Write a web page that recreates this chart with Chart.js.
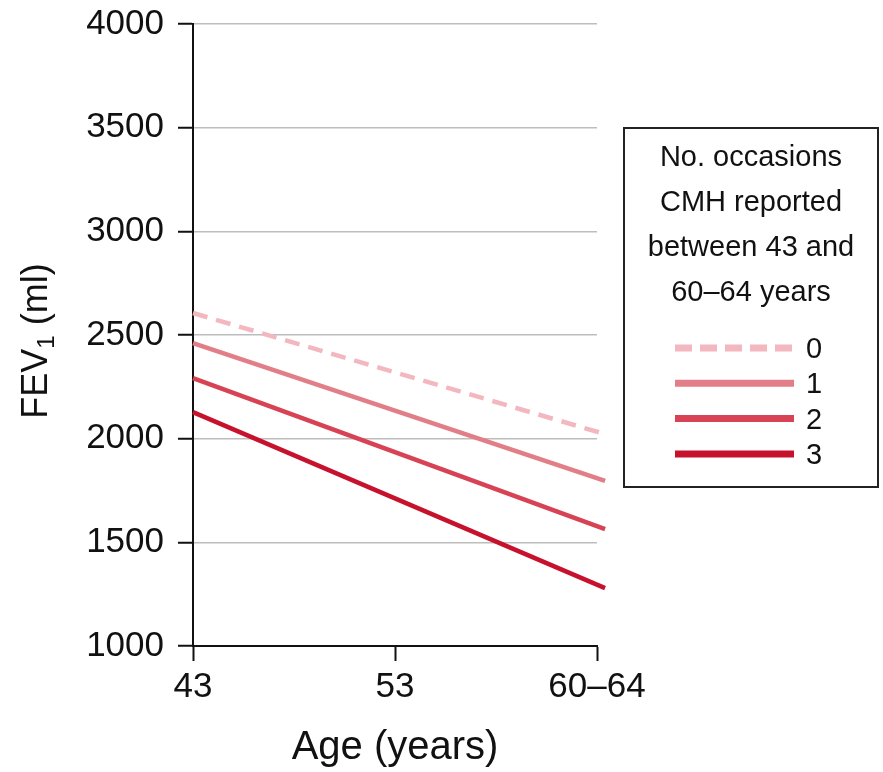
<!DOCTYPE html>
<html>
<head>
<meta charset="utf-8">
<script src="https://cdn.jsdelivr.net/npm/chart.js@4"></script>
<style>
  html, body { margin: 0; padding: 0; background: #fff; }
  #wrap { width: 883px; height: 772px; }
</style>
</head>
<body>
<div id="wrap"><canvas id="fevChart" width="883" height="772"></canvas></div>
<script>
// Data
const ages = [43, 63.4];
const xTickValues = [43, 53, 63];
const xTickLabels = ['43', '53', '60\u201364'];
const cmhLabels = ['0', '1', '2', '3'];
const fevCmh0 = [2606, 2022];
const fevCmh1 = [2461, 1796];
const fevCmh2 = [2292, 1564];
const fevCmh3 = [2128, 1279];
const legendTitle = ['No. occasions', 'CMH reported', 'between 43 and', '60\u201364 years'];

const lineColors = ['#f3b8bf', '#e27e88', '#d74354', '#c6122d'];
const FONT = '"Liberation Sans", Arial, Helvetica, sans-serif';

function series(values) {
  return values.map((v, i) => ({ x: ages[i], y: v }));
}

// axis titles + boxed legend drawn on top of the chart
const extrasPlugin = {
  id: 'extras',
  afterDraw(chart) {
    const ctx = chart.ctx;
    const area = chart.chartArea;
    ctx.save();
    ctx.fillStyle = '#111';

    // x axis title
    ctx.font = '40px ' + FONT;
    ctx.textAlign = 'center';
    ctx.textBaseline = 'alphabetic';
    ctx.fillText('Age (years)', (area.left + area.right) / 2, 759);

    // y axis title with subscript
    ctx.save();
    ctx.translate(47, (area.top + area.bottom) / 2 + 6);
    ctx.rotate(-Math.PI / 2);
    const big = '36px ' + FONT, small = '24px ' + FONT;
    ctx.font = big;
    const w1 = ctx.measureText('FEV').width;
    const w3 = ctx.measureText(' (ml)').width;
    ctx.font = small;
    const w2 = ctx.measureText('1').width;
    let x = -(w1 + w2 + w3) / 2;
    ctx.textAlign = 'left';
    ctx.font = big;
    ctx.fillText('FEV', x, 0);
    ctx.font = small;
    ctx.fillText('1', x + w1, 7);
    ctx.font = big;
    ctx.fillText(' (ml)', x + w1 + w2, 0);
    ctx.restore();

    // legend box
    ctx.strokeStyle = '#222';
    ctx.lineWidth = 2;
    ctx.strokeRect(624, 128, 254, 359);
    ctx.font = '29px ' + FONT;
    ctx.textAlign = 'center';
    ctx.textBaseline = 'middle';
    legendTitle.forEach((t, i) => ctx.fillText(t, 751, 158 + i * 45));

    chart.data.datasets.forEach((ds, i) => {
      const y = 348 + i * 35.3;
      ctx.beginPath();
      ctx.strokeStyle = ds.borderColor;
      ctx.lineWidth = 7;
      ctx.setLineDash(ds.borderDash ? [17, 8] : []);
      ctx.moveTo(675, y);
      ctx.lineTo(794, y);
      ctx.stroke();
      ctx.setLineDash([]);
      ctx.textAlign = 'left';
      ctx.fillStyle = '#111';
      ctx.fillText(cmhLabels[i], 806, y + 2);
    });
    ctx.restore();
  }
};

const datasets = [fevCmh0, fevCmh1, fevCmh2, fevCmh3].map((vals, i) => ({
  label: cmhLabels[i],
  data: series(vals),
  borderColor: lineColors[i],
  borderWidth: 4.5,
  borderDash: i === 0 ? [15, 9] : undefined,
  pointRadius: 0,
  fill: false,
  clip: false,
  tension: 0
}));

new Chart(document.getElementById('fevChart'), {
  type: 'line',
  data: { datasets },
  plugins: [extrasPlugin],
  options: {
    responsive: false,
    animation: false,
    layout: { padding: { top: 24, right: 286, bottom: 0, left: 0 } },
    plugins: {
      legend: { display: false },
      tooltip: { enabled: false }
    },
    scales: {
      x: {
        type: 'linear',
        min: 43,
        max: 63,
        afterBuildTicks: (scale) => {
          scale.ticks = xTickValues.map(v => ({ value: v }));
        },
        afterFit: (scale) => { scale.height = 126; },
        ticks: {
          color: '#111',
          font: { family: FONT, size: 35 },
          padding: 5,
          maxRotation: 0,
          autoSkip: false,
          callback: (val) => {
            const idx = xTickValues.indexOf(val);
            return idx >= 0 ? xTickLabels[idx] : '';
          }
        },
        grid: {
          drawOnChartArea: false,
          tickLength: 15,
          tickColor: '#111',
          tickWidth: 2
        },
        border: { color: '#111', width: 2 }
      },
      y: {
        min: 1000,
        max: 4000,
        afterFit: (scale) => {
          scale.width = 193;
          scale.paddingTop = 0;
          scale.paddingBottom = 0;
        },
        ticks: {
          stepSize: 500,
          color: '#111',
          font: { family: FONT, size: 35 },
          padding: 14,
          callback: (val) => String(val)
        },
        grid: {
          color: (c) => (c.tick && c.tick.value === 1000 ? '#111' : '#bdbdbd'),
          lineWidth: 1.5,
          tickLength: 15,
          tickColor: '#111',
          tickWidth: 2
        },
        border: { color: '#111', width: 2 }
      }
    }
  }
});
</script>
</body>
</html>
